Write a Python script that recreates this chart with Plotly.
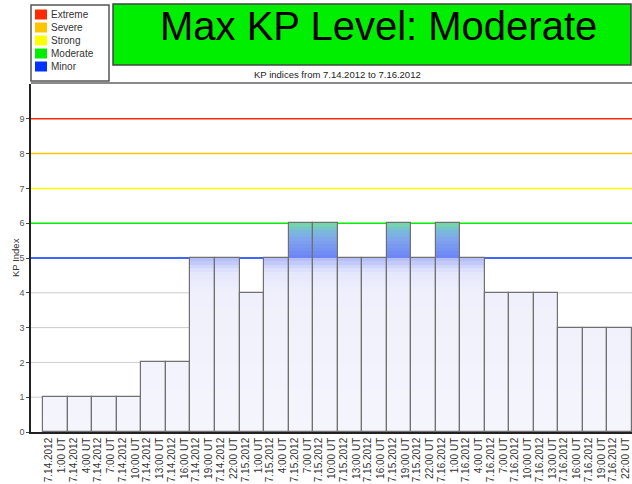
import plotly.graph_objects as go

# ---------------- data ----------------
dates = ["7.14.2012"] * 8 + ["7.15.2012"] * 8 + ["7.16.2012"] * 8
times = ["1:00 UT", "4:00 UT", "7:00 UT", "10:00 UT", "13:00 UT", "16:00 UT", "19:00 UT", "22:00 UT"] * 3
kp_values = [1, 1, 1, 1, 2, 2, 5, 5,
             4, 5, 6, 6, 5, 5, 6, 5,
             6, 5, 4, 4, 4, 3, 3, 3]
levels = ["Extreme", "Severe", "Strong", "Moderate", "Minor"]
level_colors = ["#ff2a00", "#ffc400", "#ffff00", "#00ee00", "#0033ff"]
level_kp = [9, 8, 7, 6, 5]
title_text = "Max KP Level: Moderate"
subtitle_text = "KP indices from 7.14.2012 to 7.16.2012"
y_title = "KP Index"

# ---------------- geometry helpers ----------------
W, H = 632, 484
L, R, T, B = 31, 0, 84, 52
PW, PH = W - L - R, H - T - B


def px(x):
    return (x - L) / PW


def py(y):
    return (H - B - y) / PH


def hex2rgb(h):
    h = h.lstrip("#")
    return tuple(int(h[i:i + 2], 16) for i in (0, 2, 4))


def interp(stops, v):
    for (a, ca), (b, cb) in zip(stops, stops[1:]):
        if a <= v <= b:
            t = 0 if b == a else (v - a) / (b - a)
            ra, rb = hex2rgb(ca), hex2rgb(cb)
            c = [round(ra[i] + (rb[i] - ra[i]) * t) for i in range(3)]
            return "rgb(%d,%d,%d)" % tuple(c)
    return "rgb(%d,%d,%d)" % hex2rgb(stops[-1][1])


low_stops = [(0.0, "#f5f5fd"), (4.0, "#f0f0fc"), (4.6, "#e4e6fc"), (5.0, "#b0baf8")]
high_stops = [(5.0, "#6a84f6"), (5.5, "#80a2ee"), (5.8, "#78bcd8"), (6.0, "#74dca0")]

x = list(range(len(kp_values)))
ticktext = [f"{d}<br>{t}" for d, t in zip(dates, times)]

fig = go.Figure()

step = 0.1
nseg = int(round(max(kp_values) / step))
for k in range(nseg):
    a = k * step
    mid = a + step / 2
    col = interp(low_stops, mid) if mid < 5 else interp(high_stops, mid)
    ys = [step if v >= a + step - 1e-9 else None for v in kp_values]
    fig.add_trace(go.Bar(x=x, y=ys, base=[a] * len(x), width=1.0,
                         marker=dict(color=col, line=dict(width=0)),
                         showlegend=False, hoverinfo="skip"))

# outline
fig.add_trace(go.Bar(x=x, y=kp_values, width=1.0,
                     marker=dict(color="rgba(0,0,0,0)", line=dict(color="#707070", width=1.2)),
                     showlegend=False, hoverinfo="skip"))

shapes = []
for g in [1, 2, 3, 4]:
    shapes.append(dict(type="line", xref="paper", yref="y", x0=0, x1=1, y0=g, y1=g,
                       line=dict(color="#cccccc", width=1), layer="below"))
for lv, c in zip(level_kp, level_colors):
    shapes.append(dict(type="line", xref="paper", yref="y", x0=0, x1=1, y0=lv, y1=lv,
                       line=dict(color=c, width=1.5), layer="below"))
# top border of plot
shapes.append(dict(type="line", xref="paper", yref="paper", x0=0, x1=1, y0=py(83), y1=py(83),
                   line=dict(color="#8a8a8a", width=2)))
# title box
shapes.append(dict(type="rect", xref="paper", yref="paper", x0=px(113), x1=px(631), y0=py(65), y1=py(4),
                   fillcolor="#00ee00", line=dict(color="#444444", width=1.5)))
# legend box
shapes.append(dict(type="rect", xref="paper", yref="paper", x0=px(31), x1=px(109), y0=py(81), y1=py(5),
                   fillcolor="white", line=dict(color="#555555", width=1.5)))

annotations = []
row_y = [14.5, 27.5, 40.5, 53.5, 66.5]
for name, c, ry in zip(levels, level_colors, row_y):
    shapes.append(dict(type="rect", xref="paper", yref="paper", x0=px(35), x1=px(47),
                       y0=py(ry + 5), y1=py(ry - 5), fillcolor=c, line=dict(width=0)))
    annotations.append(dict(text=name, xref="paper", yref="paper", x=px(49), y=py(ry),
                            xanchor="left", yanchor="middle", showarrow=False,
                            font=dict(family="Liberation Sans, Arial", size=10, color="#333333")))

annotations.append(dict(text=title_text, xref="paper", yref="paper", x=px(378), y=py(26),
                        xanchor="center", yanchor="middle", showarrow=False,
                        font=dict(family="Liberation Sans, Arial", size=40, color="black")))
annotations.append(dict(text=subtitle_text, xref="paper", yref="paper", x=px(337), y=py(74),
                        xanchor="center", yanchor="middle", showarrow=False,
                        font=dict(family="Liberation Sans, Arial", size=9.5, color="#222222")))
annotations.append(dict(text=y_title, xref="paper", yref="paper", x=px(15), y=py(258),
                        xanchor="center", yanchor="middle", showarrow=False, textangle=-90,
                        font=dict(family="Liberation Sans, Arial", size=9.5, color="#333333")))

fig.update_layout(
    width=W, height=H,
    margin=dict(l=L, r=R, t=T, b=B, pad=0),
    paper_bgcolor="white", plot_bgcolor="white",
    barmode="overlay", bargap=0,
    shapes=shapes, annotations=annotations,
    font=dict(family="Liberation Sans, Arial"),
    xaxis=dict(range=[-1, 23.5], tickmode="array", tickvals=x, ticktext=ticktext,
               tickangle=-90, tickfont=dict(size=10, color="#333333"),
               showgrid=False, zeroline=False, showline=True, linecolor="#222222", linewidth=1.5,
               ticks="", fixedrange=True),
    yaxis=dict(range=[0, 10], tickmode="array", tickvals=list(range(10)),
               tickfont=dict(size=9, color="#555555"), ticks="outside", ticklen=3,
               tickcolor="#444444", showgrid=False, zeroline=False, showline=True,
               linecolor="#222222", linewidth=1.5, fixedrange=True),
)

fig.write_html("out.html", config={"displayModeBar": False},
               post_script="document.body.style.margin='0';document.body.style.padding='0';")
